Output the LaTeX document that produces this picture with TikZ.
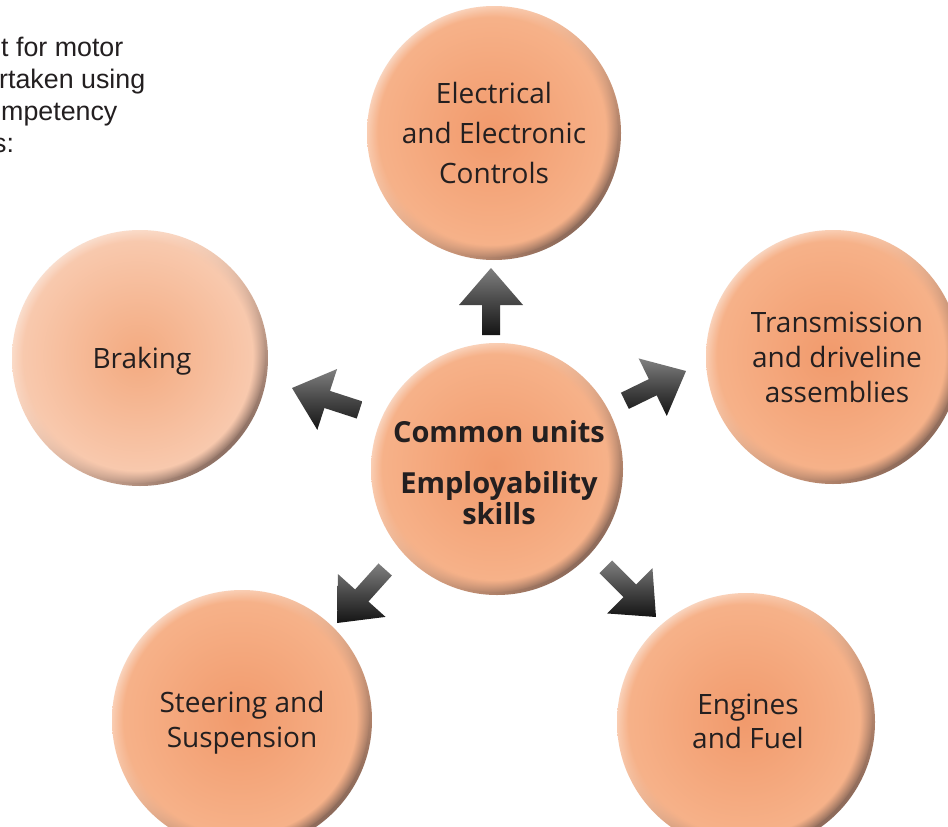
\documentclass[tikz,border=0pt]{standalone}
\usepackage{fontspec}
\setmainfont{Open Sans}
\newfontfamily\arialfont{Liberation Sans}
\usetikzlibrary{fadings,shadings}
\definecolor{orbin}{RGB}{241,154,108}
\definecolor{orbout}{RGB}{247,180,140}
\definecolor{orbinlt}{RGB}{243,170,128}
\definecolor{orboutlt}{RGB}{249,204,178}
\definecolor{orbpale}{RGB}{254,238,228}
\definecolor{orbdark}{RGB}{100,76,68}
\definecolor{txt}{RGB}{35,31,32}
% #1 x, #2 y, #3 r, #4 inner colour, #5 outer colour
\newcommand\orbdraw[5]{%
  \begin{scope}
    \clip (#1,#2) circle (#3);
    \shade[upper left=orbpale, lower right=orbdark, upper right=#5, lower left=#5] ({#1-#3},{#2-#3}) rectangle ({#1+#3},{#2+#3});
    \shade[inner color=#4, outer color=#5, path fading=circle with fuzzy edge 10 percent] ({#1-2},{#2+2}) circle ({#3-1});
  \end{scope}}
\newcommand\blockarrow[4]{%
  \begin{scope}[shift={(#1,#2)}, rotate=#3]
    \shade[top color=black!50, bottom color=black!92, middle color=black!72]
      (0,0) -- (-37,32) -- (-37,9) -- (-#4,9) -- (-#4,-9) -- (-37,-9) -- (-37,-32) -- cycle;
  \end{scope}}
\tikzset{
  circlab/.style={circle, minimum size=250pt, align=center, text=txt, inner sep=0pt,
    font=\fontsize{28}{35}\selectfont},
  toptext/.style={anchor=base west, text=txt, inner sep=0pt, font=\arialfont\fontsize{26.8}{32}\selectfont}
}
\begin{document}
\begin{tikzpicture}[x=1pt,y=1pt]
\useasboundingbox (0,0) rectangle (948,-827);
\fill[white] (0,0) rectangle (948,-827);
% top-left text
\node[toptext] (t1) at (1,-56) {t for motor};
\node[toptext] (t2) at (-1,-88) {rtaken using};
\node[toptext] (t3) at (1,-120) {mpetency};
\node[toptext] (t4) at (-7,-152) {s:};
% circles
\orbdraw{494}{-133}{127}{orbin}{orbout}
\orbdraw{140}{-358}{128}{orbinlt}{orboutlt}
\orbdraw{833}{-357}{127}{orbin}{orbout}
\orbdraw{497}{-469}{126}{orbin}{orbout}
\orbdraw{242}{-720}{130}{orbin}{orbout}
\orbdraw{746}{-722}{129}{orbin}{orbout}
\node[circlab, font=\fontsize{28}{40}\selectfont] (elec) at (494,-133) {Electrical\\and Electronic\\Controls};
\node[circlab] (brak) at (142,-361) {Braking};
\node[circlab] (trans) at (837,-357) {Transmission\\and driveline\\assemblies};
\node[circlab, font=\bfseries\fontsize{29}{31}\selectfont] (core) at (499,-473) {Common units\\[20pt]Employability\\skills};
\node[circlab] (steer) at (242,-723) {Steering and\\Suspension};
\node[circlab, font=\fontsize{28}{34}\selectfont] (eng) at (748,-721) {Engines\\and Fuel};
% arrows
\blockarrow{491}{-268}{90}{67}
\blockarrow{292}{-388}{162}{71}
\blockarrow{686}{-371}{26}{68}
\blockarrow{337}{-623}{228}{72}
\blockarrow{656}{-617}{-45}{71}
\end{tikzpicture}
\end{document}
